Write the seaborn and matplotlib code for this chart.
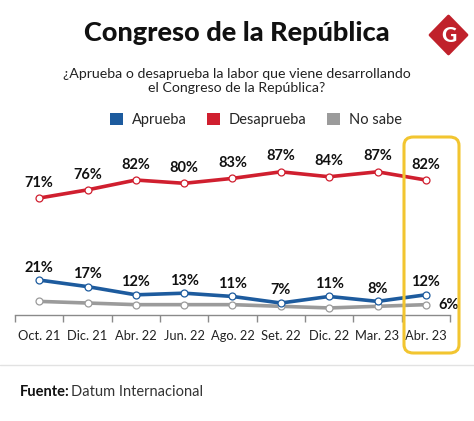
import matplotlib
matplotlib.use("Agg")
import matplotlib.pyplot as plt
from matplotlib.patches import FancyBboxPatch, Patch, Polygon
import pandas as pd
import seaborn as sns

# data
meses = ["Oct. 21", "Dic. 21", "Abr. 22", "Jun. 22", "Ago. 22",
         "Set. 22", "Dic. 22", "Mar. 23", "Abr. 23"]
aprueba = [21, 17, 12, 13, 11, 7, 11, 8, 12]
desaprueba = [71, 76, 82, 80, 83, 87, 84, 87, 82]
no_sabe = [8, 7, 6, 6, 6, 5, 4, 5, 6]

series = ["Aprueba", "Desaprueba", "No sabe"]
colores = {"Aprueba": "#1d5b9e", "Desaprueba": "#d01f2f", "No sabe": "#9b9b9b"}

df = pd.DataFrame({
    "mes": meses * 3,
    "valor": aprueba + desaprueba + no_sabe,
    "serie": ["Aprueba"] * 9 + ["Desaprueba"] * 9 + ["No sabe"] * 9,
})
df["pos"] = list(range(len(meses))) * 3

sns.set_theme(style="white")
plt.rcParams["font.family"] = ["Lato", "DejaVu Sans"]

W, H = 474, 421
fig = plt.figure(figsize=(W / 100, H / 100), dpi=100)
fig.patch.set_facecolor("white")

def fx(px):
    return px / W

def fy(py):
    return 1 - py / H

ax = fig.add_axes([fx(15), fy(314.5), fx(435), 164 / H])
ax.set_facecolor("none")

sns.lineplot(data=df, x="pos", y="valor", hue="serie", palette=colores,
             hue_order=["No sabe", "Aprueba", "Desaprueba"],
             marker="o", markersize=5, linewidth=2.6, sort=False,
             legend=False, ax=ax)
for line in ax.lines:
    c = line.get_color()
    line.set_markerfacecolor("white")
    line.set_markeredgecolor(c)
    line.set_markeredgewidth(0.9)
    line.set_solid_capstyle("round")

ax.set_xlim(-0.5, len(meses) - 0.5)
ax.set_ylim(0, 100)
ax.set_xlabel("")
ax.set_ylabel("")
ax.set_yticks([])
ax.set_xticks([i - 0.5 for i in range(len(meses) + 1)], minor=False)
ax.set_xticklabels([])
ax.set_xticks(range(len(meses)), minor=True)
ax.set_xticklabels(meses, minor=True, fontsize=9.3, color="#222222")
ax.tick_params(axis="x", which="major", direction="out", length=5,
               width=1, color="#8a8a8a", bottom=True)
ax.tick_params(axis="x", which="minor", length=0, pad=11)
for s in ["top", "right", "left"]:
    ax.spines[s].set_visible(False)
ax.spines["bottom"].set_color("#8a8a8a")
ax.spines["bottom"].set_linewidth(1)

# data labels
for i, v in enumerate(desaprueba):
    ax.annotate(f"{v}%", (i, v), xytext=(0, 6), textcoords="offset points",
                ha="center", va="bottom", fontsize=10.5, fontweight="bold",
                color="#111111")
for i, v in enumerate(aprueba):
    ax.annotate(f"{v}%", (i, v), xytext=(0, 4), textcoords="offset points",
                ha="center", va="bottom", fontsize=10.5, fontweight="bold",
                color="#111111")
ax.annotate(f"{no_sabe[-1]}%", (len(meses) - 1, no_sabe[-1]), xytext=(9, 0),
            textcoords="offset points", ha="left", va="center",
            fontsize=10.5, fontweight="bold", color="#111111")

# highlight box on last month
box = FancyBboxPatch((fx(404), fy(353)), fx(55), (353 - 137) / H,
                     boxstyle="round,pad=0,rounding_size=0.02",
                     transform=fig.transFigure, fill=False,
                     edgecolor="#f2c530", linewidth=2.2, zorder=5)
fig.patches.append(box)

# titles
fig.text(0.5, fy(33), "Congreso de la República", ha="center", va="center",
         fontsize=19.5, fontweight="black", color="#111111")
fig.text(0.5, fy(81), "¿Aprueba o desaprueba la labor que viene desarrollando\n"
         "el Congreso de la República?", ha="center", va="center",
         fontsize=10.2, color="#222222", linespacing=1.25)

# logo
logo = Polygon([(fx(448.5), fy(16)), (fx(467), fy(35)), (fx(448.5), fy(54)),
                (fx(430), fy(35))], closed=True, transform=fig.transFigure,
               facecolor="#c0212b", edgecolor="#c0212b", linewidth=2,
               joinstyle="round")
fig.patches.append(logo)
fig.text(fx(448.5), fy(35), "G", ha="center", va="center", fontsize=15,
         fontweight="black", color="white")

# legend
handles = [Patch(facecolor=colores[s], edgecolor="none") for s in series]
fig.legend(handles, series, loc="center", bbox_to_anchor=(fx(256), fy(120)),
           ncol=3, frameon=False, fontsize=10.5, handlelength=0.9,
           handleheight=0.9, handletextpad=0.6, columnspacing=1.4)

# separator and source
fig.add_artist(plt.Line2D([0, 1], [fy(365), fy(365)], color="#e2e2e2",
                          linewidth=1))
fig.text(fx(20), fy(392), "Fuente:", ha="left", va="center", fontsize=10.5,
         fontweight="bold", color="#111111")
fig.text(fx(71), fy(392), "Datum Internacional", ha="left", va="center",
         fontsize=10.5, color="#333333")

fig.savefig("out.png", dpi=100)
